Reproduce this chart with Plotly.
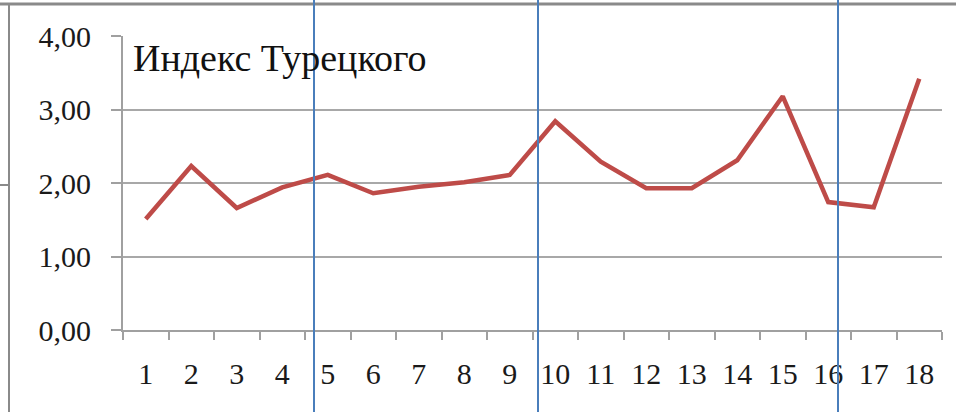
import plotly.graph_objects as go

# Turkish index by observation number
periods = [str(i) for i in range(1, 19)]
index_values = [1.51, 2.23, 1.66, 1.94, 2.11, 1.86, 1.95, 2.01, 2.11,
                2.84, 2.29, 1.93, 1.93, 2.31, 3.18, 1.74, 1.67, 3.42]
y_ticks = [0, 1, 2, 3, 4]
title_text = "Индекс Турецкого"

W, H = 956, 412
ML, MR, MT, MB = 123, 14, 36, 82
PW, PH = W - ML - MR, H - MT - MB


def px_x(px):
    return (px - ML) / PW


def px_y(py):
    return (H - MB - py) / PH


SERIF = "Liberation Serif"

fig = go.Figure()
fig.add_trace(go.Scatter(
    x=periods, y=index_values, mode="lines",
    line=dict(color="#be4b48", width=4.5),
    hoverinfo="x+y",
))

shapes = []
# frame of the surrounding document box
shapes.append(dict(type="line", xref="paper", yref="paper",
                   x0=px_x(0), x1=px_x(W), y0=px_y(4), y1=px_y(4),
                   line=dict(color="#8a8a8a", width=3)))
shapes.append(dict(type="line", xref="paper", yref="paper",
                   x0=px_x(9), x1=px_x(9), y0=px_y(4), y1=px_y(H),
                   line=dict(color="#8a8a8a", width=2)))
shapes.append(dict(type="line", xref="paper", yref="paper",
                   x0=px_x(0), x1=px_x(9), y0=px_y(185), y1=px_y(185),
                   line=dict(color="#8a8a8a", width=2)))
# blue page-column separators
for bx in [314, 538, 838]:
    shapes.append(dict(type="line", xref="paper", yref="paper",
                       x0=px_x(bx), x1=px_x(bx), y0=px_y(0), y1=px_y(H),
                       line=dict(color="#4a7ebb", width=2)))

fig.update_layout(
    width=W, height=H,
    margin=dict(l=ML, r=MR, t=MT, b=MB),
    paper_bgcolor="white", plot_bgcolor="white",
    separators=", ",
    showlegend=False,
    font=dict(family=SERIF, color="#1a1a1a"),
    shapes=shapes,
    annotations=[dict(
        text=title_text, xref="paper", yref="paper",
        x=px_x(131), y=px_y(35), xanchor="left", yanchor="top",
        showarrow=False, font=dict(family=SERIF, size=38, color="#111111"),
    )],
    xaxis=dict(
        type="category", tickson="boundaries",
        range=[-0.5, len(periods) - 0.5], automargin=False,
        ticks="outside", ticklen=8, tickwidth=2, tickcolor="#a0a0a0",
        showline=True, linecolor="#a0a0a0", linewidth=2,
        showgrid=False, zeroline=False,
        tickfont=dict(family=SERIF, size=30, color="#1a1a1a"),
        ticklabelstandoff=16,
    ),
    yaxis=dict(
        range=[0, 4], tickvals=y_ticks, tickformat=".2f", automargin=False,
        ticks="outside", ticklen=10, tickwidth=2, tickcolor="#a0a0a0",
        showline=True, linecolor="#a0a0a0", linewidth=2,
        showgrid=True, gridcolor="#a8a8a8", gridwidth=2,
        zeroline=False,
        tickfont=dict(family=SERIF, size=30, color="#1a1a1a"),
        ticklabelstandoff=14,
    ),
)

fig.write_html("out.html")
